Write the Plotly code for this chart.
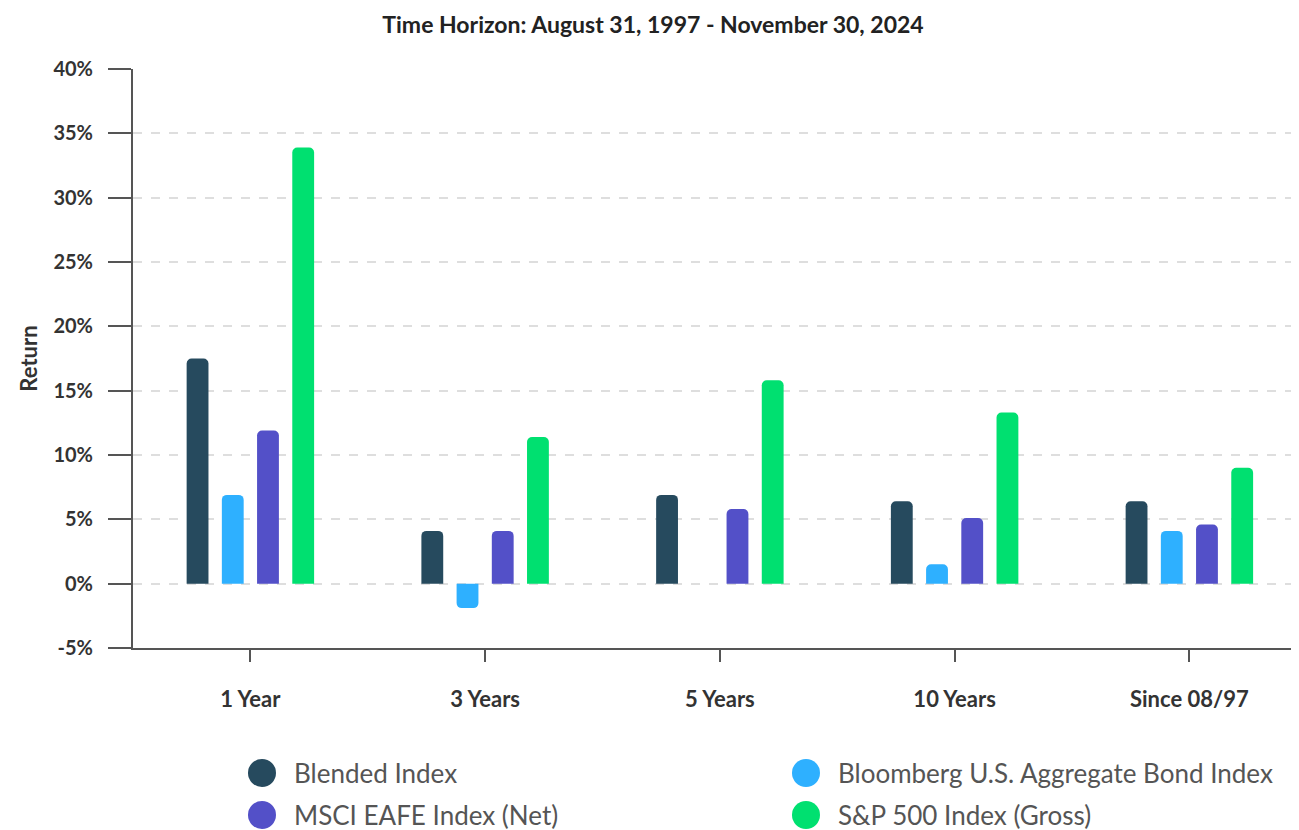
import plotly.graph_objects as go

categories = ["1 Year", "3 Years", "5 Years", "10 Years", "Since 08/97"]
series_names = ["Blended Index", "Bloomberg U.S. Aggregate Bond Index",
                "MSCI EAFE Index (Net)", "S&P 500 Index (Gross)"]
blended = [17.5, 4.1, 6.9, 6.4, 6.4]
bloomberg = [6.9, -1.9, 0.0, 1.5, 4.1]
msci = [11.9, 4.1, 5.8, 5.1, 4.6]
sp500 = [33.9, 11.4, 15.8, 13.3, 9.0]
colors = ["#264a5e", "#2eb0ff", "#5350c8", "#00e070"]
y_ticks = [-5, 0, 5, 10, 15, 20, 25, 30, 35, 40]
y_tick_labels = ["-5%", "0%", "5%", "10%", "15%", "20%", "25%", "30%", "35%", "40%"]

values = [blended, bloomberg, msci, sp500]

W, H = 1291, 822
ML, MR, MT, MB = 125, 0, 61, 182
PW, PH = W - ML - MR, H - MT - MB

fig = go.Figure()
for name, vals, col in zip(series_names, values, colors):
    fig.add_trace(go.Bar(x=categories, y=vals, name=name, marker_color=col,
                         marker_line_width=0, showlegend=False))

FONT = "Lato"
fig.update_layout(
    width=W, height=H,
    margin=dict(l=ML, r=MR, t=MT, b=MB),
    paper_bgcolor="white", plot_bgcolor="white",
    barmode="group", bargap=0.4, bargroupgap=0.38, barcornerradius=5,
    font=dict(family=FONT, color="#333333"),
    title=dict(text="<b>Time Horizon: August 31, 1997 - November 30, 2024</b>",
               x=645 / W, xanchor="center", y=1 - 17 / H, yanchor="middle",
               font=dict(size=23, family=FONT, color="#222222")),
    showlegend=False,
)
fig.update_xaxes(
    range=[-0.5, 4.467], showline=True, linecolor="#555555", linewidth=2,
    ticks="outside", ticklen=12, tickwidth=2, tickcolor="#555555",
    tickfont=dict(size=22, family=FONT, color="#333333", weight="bold"),
    ticklabelstandoff=19, showgrid=False,
)
fig.update_yaxes(
    range=[-5, 40], tickvals=y_ticks, ticktext=y_tick_labels,
    showline=True, linecolor="#555555", linewidth=2,
    ticks="outside", ticklen=23, tickwidth=2, tickcolor="#555555",
    tickfont=dict(size=20, family=FONT, color="#333333", weight="bold"),
    ticklabelstandoff=11,
    showgrid=True, gridcolor="#dedede", gridwidth=1.5, griddash="dash",
    zeroline=False,
    title=dict(text="<b>Return</b>", standoff=10,
               font=dict(size=22, family=FONT, color="#333333")),
)

# custom legend (circles + labels)
leg_px = [(254, 765), (798, 765), (254, 807), (798, 807)]
for name, col, (px, py) in zip(series_names, colors, leg_px):
    lx = (px - ML) / PW
    ly = (H - MB - py) / PH
    fig.add_shape(type="circle", xref="paper", yref="paper",
                  xsizemode="pixel", ysizemode="pixel",
                  xanchor=lx, yanchor=ly, x0=-14, x1=14, y0=-14, y1=14,
                  fillcolor=col, line_width=0)
    fig.add_annotation(text=name, xref="paper", yref="paper",
                       x=lx + 30 / PW, y=ly, xanchor="left", yanchor="middle",
                       showarrow=False,
                       font=dict(size=26, family=FONT, color="#555555"))

fig.write_html("out.html")
